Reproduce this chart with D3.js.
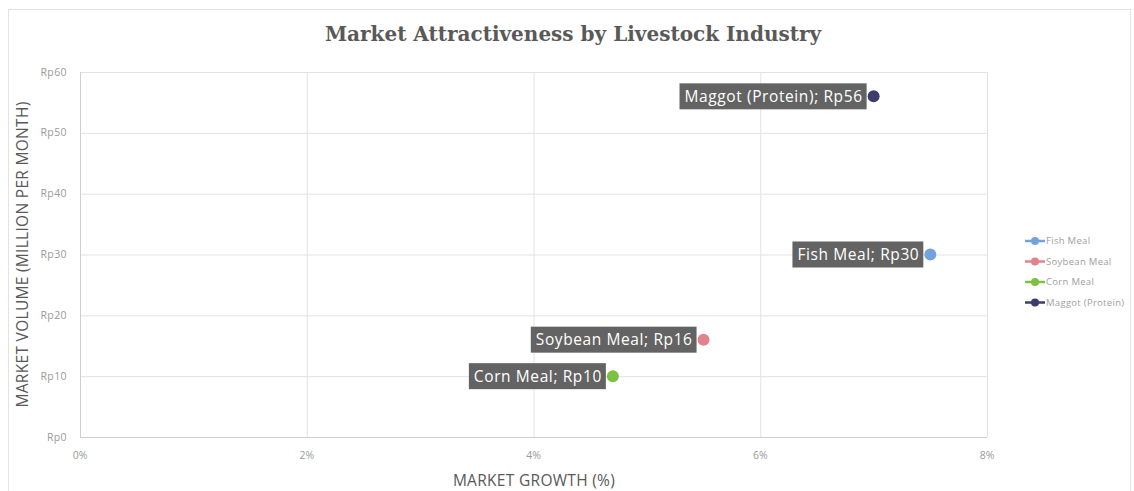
<!DOCTYPE html>
<html>
<head>
<meta charset="utf-8">
<script src="https://cdn.jsdelivr.net/npm/d3@7"></script>
<style>
  body { margin: 0; background: #fff; }
  svg { display: block; font-family: "Open Sans", sans-serif; }
</style>
</head>
<body>
<svg id="chart" width="1134" height="491"></svg>
<script>
// values
const series = ["Fish Meal", "Soybean Meal", "Corn Meal", "Maggot (Protein)"];
const growth = [7.5, 5.5, 4.7, 7.0];       // market growth, %
const volume = [30, 16, 10, 56];           // Rp million per month
const colors = ["#73a3dc", "#e0838c", "#7cc242", "#3c3c6e"];
const xTicks = [0, 2, 4, 6, 8];
const yTicks = [0, 10, 20, 30, 40, 50, 60];

const svg = d3.select("#chart");
const W = 1134, H = 491;
const margin = {left: 80, right: 147, top: 72, bottom: 54};

// chart frame
svg.append("rect")
    .attr("x", 8.5).attr("y", 9.5)
    .attr("width", 1122).attr("height", 490)
    .attr("fill", "#fff").attr("stroke", "#e3e3e3");

const x = d3.scaleLinear().domain([0, 8]).range([margin.left, W - margin.right]);
const y = d3.scaleLinear().domain([0, 60]).range([H - margin.bottom, margin.top]);

// gridlines
svg.append("g").selectAll("line.h")
    .data(yTicks).enter().append("line")
    .attr("x1", x(0)).attr("x2", x(8))
    .attr("y1", d => y(d) + 0.5).attr("y2", d => y(d) + 0.5)
    .attr("stroke", d => d === 0 ? "#cfcfcf" : "#e2e2e2");

svg.append("g").selectAll("line.v")
    .data(xTicks).enter().append("line")
    .attr("y1", y(0)).attr("y2", y(60))
    .attr("x1", d => x(d) + 0.5).attr("x2", d => x(d) + 0.5)
    .attr("stroke", d => d === 0 ? "#cfcfcf" : "#e2e2e2");

// tick labels
svg.append("g").selectAll("text")
    .data(yTicks).enter().append("text")
    .attr("x", x(0) - 13).attr("y", d => y(d) + 3.5)
    .attr("text-anchor", "end")
    .attr("font-size", 10.5).attr("letter-spacing", 0.4)
    .attr("fill", "#9a9a9a")
    .text(d => "Rp" + d);

svg.append("g").selectAll("text")
    .data(xTicks).enter().append("text")
    .attr("x", d => x(d)).attr("y", y(0) + 22)
    .attr("text-anchor", "middle")
    .attr("font-size", 10.5).attr("fill", "#9a9a9a")
    .text(d => d + "%");

// titles
svg.append("text")
    .attr("x", 573).attr("y", 41)
    .attr("text-anchor", "middle")
    .attr("font-family", "'DejaVu Serif', serif")
    .attr("font-weight", "bold").attr("font-size", 20)
    .attr("fill", "#595959")
    .text("Market Attractiveness by Livestock Industry");

svg.append("text")
    .attr("x", 534).attr("y", 486)
    .attr("text-anchor", "middle")
    .attr("font-size", 15.5).attr("letter-spacing", 0.3)
    .attr("fill", "#595959")
    .text("MARKET GROWTH (%)");

svg.append("text")
    .attr("transform", "translate(28," + ((y(0) + y(60)) / 2) + ") rotate(-90)")
    .attr("text-anchor", "middle")
    .attr("font-size", 15.5).attr("letter-spacing", 0.3)
    .attr("fill", "#595959")
    .text("MARKET VOLUME (MILLION PER MONTH)");

// points and labels
const data = series.map((s, i) => ({name: s, g: growth[i], v: volume[i], c: colors[i]}));

const pts = svg.append("g").selectAll("g")
    .data(data).enter().append("g");

pts.each(function(d) {
    const g = d3.select(this);
    const px = x(d.g), py = y(d.v);
    const box = g.append("rect").attr("fill", "#636363");
    const t = g.append("text")
        .attr("font-size", 15.5).attr("letter-spacing", 0.6)
        .attr("fill", "#fff")
        .attr("text-anchor", "end")
        .attr("x", px - 11).attr("y", py + 5.5)
        .text(d.name + "; Rp" + d.v);
    const w = t.node().getComputedTextLength();
    box.attr("x", px - 11 - w - 5).attr("y", py - 13)
        .attr("width", w + 9).attr("height", 26);
    g.append("circle")
        .attr("cx", px).attr("cy", py).attr("r", 6)
        .attr("fill", d.c);
});

// legend
const leg = svg.append("g").selectAll("g")
    .data(data).enter().append("g")
    .attr("transform", (d, i) => "translate(1025," + (241 + i * 20.5) + ")");
leg.append("line").attr("x1", 0).attr("x2", 20)
    .attr("stroke", d => d.c).attr("stroke-width", 2.5);
leg.append("circle").attr("cx", 10).attr("r", 4).attr("fill", d => d.c);
leg.append("text").attr("x", 21).attr("y", 3)
    .attr("font-size", 9.5).attr("letter-spacing", 0.3)
    .attr("fill", "#a0a0a0")
    .text(d => d.name);
</script>
</body>
</html>
